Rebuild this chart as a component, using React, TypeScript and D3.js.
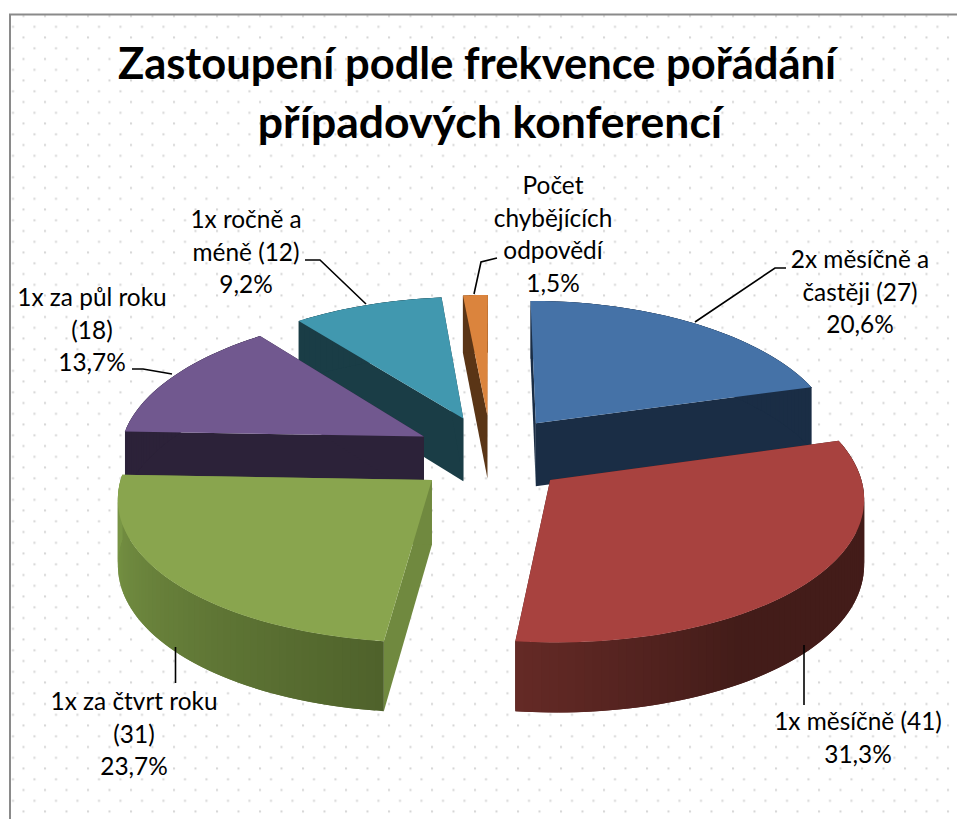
import React from "react";
import * as d3 from "d3";

const titleLines = ["Zastoupení podle frekvence pořádání", "případových konferencí"];
const titleCenters = [477, 490];
const titleBaselines = [79, 138];
const titleSizes = [43.5, 44.5];
const categoryLines = [
  ["2x měsíčně a", "častěji (27)"],
  ["1x měsíčně (41)"],
  ["1x za čtvrt roku", "(31)"],
  ["1x za půl roku", "(18)"],
  ["1x ročně a", "méně (12)"],
  ["Počet", "chybějících", "odpovědí"],
];
const values = [27, 41, 31, 18, 12, 2];
const topColors = ["#4572A7", "#A8423F", "#89A54E", "#71588F", "#4198AF", "#DB843D"];
const sideColors = ["#1A2D45", "#461C1A", "#70893F", "#2C2239", "#1A3D46", "#5A3516"];
const wallNear = ["#1A2D45", "#652A26", "#4F622B", "#2C2239", "#1A3D46", "#5A3516"];
const wallFar = ["#1A2D45", "#431C19", "#7A9746", "#2C2239", "#1A3D46", "#5A3516"];
const drawOrder = [5, 4, 0, 3, 2, 1];
const labelCenters = [860, 858, 134, 92, 246, 553];
const labelBaselines = [268, 730, 710, 306, 228, 194];
const leaders: [number, number][][] = [
  [[695, 322], [775, 268], [786, 268]],
  [[804, 645], [804, 705]],
  [[175.5, 647], [175.5, 683]],
  [[172, 374], [143, 369], [132, 369]],
  [[366, 304], [320, 260], [305, 260]],
  [[474, 294], [481, 262], [497, 258]],
];

const cx = 491, cy = 454, kx = 305, ky = 143, q = 0.115, p = 0.1;
const explodeX = 0.25, explodeY = 0.275, depth = 64;

const project = (X: number, Y: number, bottom: boolean): [number, number] => [
  cx + kx * X * (1 + q * Y),
  cy + ky * Y * (1 + p * Y) + (bottom ? depth * (1 + 0.08 * Y) : 0),
];

const pct = d3.format(".1f");
const lineGen = d3.line<[number, number]>();
const total = d3.sum(values);
const arcs = d3.pie<number>().sort(null)(values);

function App() {
  const slices = arcs.map((a, i) => {
    const mid = (a.startAngle + a.endAngle) / 2;
    const ox = Math.sin(mid) * explodeX;
    const oy = -Math.cos(mid) * explodeY;
    const rim = (t: number, b: boolean) => project(ox + Math.sin(t), oy - Math.cos(t), b);
    const apex = (b: boolean) => project(ox, oy, b);
    const n = Math.max(4, Math.ceil((a.endAngle - a.startAngle) * 40));
    const ts = d3.range(n + 1).map((k) => a.startAngle + ((a.endAngle - a.startAngle) * k) / n);
    const wallColor = d3
      .scaleLinear<string>()
      .domain([Math.PI * 1.04, Math.PI * 0.82, Math.PI * 0.5])
      .range([wallNear[i], wallFar[i], wallFar[i]])
      .clamp(true);
    const greenColor = d3
      .scaleLinear<string>()
      .domain([Math.PI * 1.04, Math.PI * 1.5])
      .range([wallNear[i], wallFar[i]])
      .clamp(true);
    const colorAt = (t: number) => (t > Math.PI * 1.04 ? greenColor(t) : wallColor(t));
    return { i, rim, apex, ts, colorAt, a };
  });

  return (
    <svg width={957} height={819} style={{ position: "absolute", left: 0, top: 0 }}>
      <defs>
        <pattern id="dots" width={21.5} height={21.5} patternUnits="userSpaceOnUse">
          <rect x={1} y={15} width={2} height={2} fill="#D4D4D4" />
          <rect x={12} y={4.3} width={2} height={2} fill="#D4D4D4" />
        </pattern>
      </defs>
      <rect width={957} height={819} fill="#fff" />
      <rect x={10} y={14} width={947} height={805} fill="url(#dots)" />
      <path d="M10 819V14.5H957" fill="none" stroke="#8A8A8A" strokeWidth={2} />

      {drawOrder.map((idx) => {
        const s = slices[idx];
        const { rim, apex, ts, a } = s;
        const face = (t: number) =>
          lineGen([apex(false), rim(t, false), rim(t, true), apex(true)]) + "Z";
        return (
          <g key={idx}>
            <path d={face(a.startAngle)} fill={sideColors[idx]} />
            <path d={face(a.endAngle)} fill={sideColors[idx]} />
            {ts.slice(1).map((t, k) => {
              const next = ts[Math.min(k + 2, ts.length - 1)];
              return (
                <path
                  key={k}
                  d={lineGen([rim(ts[k], false), rim(next, false), rim(next, true), rim(ts[k], true)]) + "Z"}
                  fill={s.colorAt((t + ts[k]) / 2)}
                />
              );
            })}
            <path
              d={lineGen([apex(false), ...ts.map((t) => rim(t, false))]) + "Z"}
              fill={topColors[idx]}
            />
          </g>
        );
      })}

      {leaders.map((pts, i) => (
        <path key={i} d={lineGen(pts) ?? ""} fill="none" stroke="#000" strokeWidth={1.6} />
      ))}

      <g fontFamily="Lato, 'Open Sans', sans-serif" fill="#000" textAnchor="middle">
        {titleLines.map((t, i) => (
          <text key={i} x={titleCenters[i]} y={titleBaselines[i]} fontSize={titleSizes[i]} fontWeight={700}>
            {t}
          </text>
        ))}
        {categoryLines.map((lines, i) => {
          const all = [...lines, `${pct((values[i] / total) * 100).replace(".", ",")}%`];
          return all.map((t, k) => (
            <text key={k + "-" + i} x={labelCenters[i]} y={labelBaselines[i] + k * 32.6} fontSize={24.4}>
              {t}
            </text>
          ));
        })}
      </g>
    </svg>
  );
}

export default App;
